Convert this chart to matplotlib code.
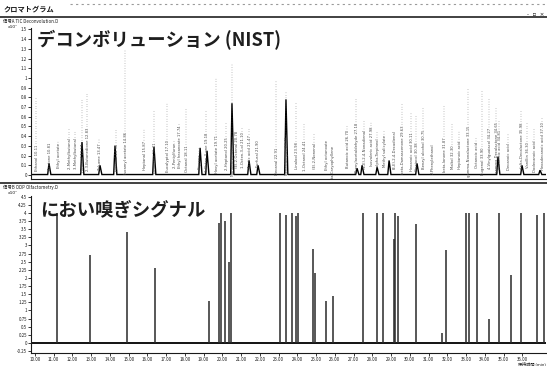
import matplotlib
matplotlib.use("Agg")
import matplotlib.pyplot as plt
from matplotlib.lines import Line2D

plt.rcParams['font.family'] = ['Noto Sans CJK JP', 'DejaVu Sans']

# ---- retention-time axis (min) ----
rt_ticks = [10, 11, 12, 13, 14, 15, 16, 17, 18, 19, 20, 21, 22, 23, 24, 25,
            26, 27, 28, 29, 30, 31, 32, 33, 34, 35, 36]
rt_labels = [f"{t:.2f}" for t in rt_ticks]

# ---- TIC after deconvolution (x10^7) ----
peak_rt = [10.75, 12.51, 13.47, 14.27, 16.35, 18.81, 19.18, 20.51, 21.42,
           21.90, 23.39, 27.18, 27.45, 28.25, 28.89, 30.38, 34.70, 35.98, 36.94]
peak_height = [0.12, 0.34, 0.10, 0.30, 0.29, 0.28, 0.25, 0.74, 0.15,
               0.10, 0.78, 0.07, 0.10, 0.08, 0.15, 0.12, 0.19, 0.10, 0.05]
tic_ticks = [0.0, 0.1, 0.2, 0.3, 0.4, 0.5, 0.6, 0.7, 0.8, 0.9, 1.0, 1.1,
             1.2, 1.3, 1.4, 1.5]
tic_labels = ["0", "0.1", "0.2", "0.3", "0.4", "0.5", "0.6", "0.7", "0.8",
              "0.9", "1", "1.1", "1.2", "1.3", "1.4", "1.5"]

# ---- NIST library hits annotated above the deconvoluted peaks ----
hit_rt = [10.11, 10.81, 11.29, 11.87, 12.19, 12.57, 12.83, 13.47, 14.38,
          14.86, 15.87, 16.41, 17.10, 17.47, 17.74, 18.11, 18.81, 19.18,
          19.71, 20.25, 20.57, 20.78, 21.10, 21.47, 21.90, 22.91, 23.45,
          23.98, 24.41, 24.94, 25.58, 25.90, 26.70, 27.18, 27.61, 27.98,
          28.30, 28.67, 29.21, 29.63, 30.11, 30.38, 30.75, 31.23, 31.87,
          32.30, 32.67, 33.15, 33.58, 33.90, 34.27, 34.65, 34.81, 35.29,
          35.98, 36.30, 36.67, 37.10]
hit_top = [0.80, 0.33, 0.36, 0.48, 0.46, 0.79, 0.85, 0.38, 0.48, 1.29,
           0.48, 0.67, 0.75, 0.36, 0.54, 0.69, 0.29, 0.67, 1.00, 0.54,
           1.15, 0.46, 0.49, 0.49, 0.36, 0.98, 0.86, 0.75, 0.54, 0.43,
           0.36, 0.31, 0.52, 0.80, 0.57, 0.55, 0.46, 0.46, 0.46, 0.74,
           0.65, 0.62, 0.70, 0.33, 0.72, 0.54, 0.46, 0.90, 0.39, 0.88,
           0.79, 0.70, 0.57, 0.43, 0.67, 0.54, 0.49, 0.60]
hit_names = ["Ethanol", "Acetone", "Ethyl acetate", "2-Methylbutanal",
             "3-Methylbutanal", "Pentanal", "2,3-Butanedione", "Toluene",
             "Hexanal", "Isoamyl acetate", "Heptanal", "Limonene",
             "Eucalyptol", "2-Pentylfuran", "Ethyl hexanoate", "Octanal",
             "Styrene", "1-Octen-3-one", "Hexyl acetate", "2-Heptanol",
             "Nonanal", "(E)-2-Octenal", "1-Octen-3-ol", "Acetic acid",
             "Furfural", "Decanal", "Benzaldehyde", "Linalool", "1-Octanol",
             "(E)-2-Nonenal", "Ethyl octanoate", "beta-Caryophyllene",
             "Butanoic acid", "Phenylacetaldehyde", "(E,E)-2,4-Nonadienal",
             "Isovaleric acid", "alpha-Terpineol", "Methyl salicylate",
             "(E,E)-2,4-Decadienal", "beta-Damascenone", "Hexanoic acid",
             "Guaiacol", "Benzyl alcohol", "2-Phenylethanol", "beta-Ionone",
             "Maltol", "Heptanoic acid", "gamma-Nonalactone", "Octanoic acid",
             "Eugenol", "4-Vinylguaiacol", "gamma-Decalactone",
             "Nonanoic acid", "Decanoic acid", "delta-Decalactone",
             "Vanillin", "Dodecanoic acid", "Hexadecanoic acid"]

# ---- sniffing port (olfactometry) signal ----
odor_rt = [11.20, 12.94, 14.93, 16.41, 19.30, 19.84, 19.91, 20.14, 20.37,
           20.44, 23.07, 23.39, 23.70, 23.93, 24.02, 24.85, 24.94, 25.53,
           25.92, 27.52, 28.26, 28.58, 29.15, 29.21, 29.38, 30.31, 31.71,
           31.93, 32.98, 33.15, 33.56, 34.22, 34.74, 35.39, 35.91, 36.76,
           37.15]
odor_intensity = [4.0, 2.7, 3.4, 2.3, 1.3, 3.7, 4.0, 3.75, 2.5, 4.0, 4.0,
                  3.95, 4.0, 3.9, 4.0, 2.9, 2.15, 1.3, 1.45, 4.0, 4.0, 4.0,
                  3.2, 4.0, 3.9, 3.65, 0.3, 2.85, 4.0, 4.0, 4.0, 0.75, 4.0,
                  2.1, 4.0, 3.95, 4.0]
odor_ticks = [-0.25, 0.0, 0.25, 0.5, 0.75, 1.0, 1.25, 1.5, 1.75, 2.0, 2.25,
              2.5, 2.75, 3.0, 3.25, 3.5, 3.75, 4.0, 4.25, 4.5]
odor_labels = ["-0.25", "0", "0.25", "0.5", "0.75", "1", "1.25", "1.5",
               "1.75", "2", "2.25", "2.5", "2.75", "3", "3.25", "3.5",
               "3.75", "4", "4.25", "4.5"]

W, H = 547, 366
fig = plt.figure(figsize=(W / 100, H / 100), dpi=100)
fig.patch.set_facecolor("white")


def fx(px):
    return px / W


def fy(py):
    return 1 - py / H


XLIM = (9.79, 37.26)
INK = "#1a1a1a"

# ---- window chrome ----
fig.add_artist(Line2D([fx(70), fx(547)], [fy(4), fy(4)], color="#9a9a9a",
                      lw=0.8, ls=(0, (2, 3))))
fig.text(fx(4), fy(9), "クロマトグラム", fontsize=5.2, color=INK,
         va="center", ha="left", weight="bold")
fig.text(fx(544), fy(14), "-  ▫  ×", fontsize=4, color=INK, va="center",
         ha="right", family=["DejaVu Sans"])
fig.add_artist(Line2D([0, 1], [fy(17), fy(17)], color="#333333", lw=1.3))
fig.text(fx(3), fy(21.5), "信号A TIC Deconvolution.D", fontsize=3.2,
         color=INK, va="center", ha="left")
fig.add_artist(Line2D([0, 1], [fy(183), fy(183)], color="#333333", lw=1.3))
fig.text(fx(3), fy(187.5), "信号B ODP Olfactometry.D", fontsize=3.2,
         color=INK, va="center", ha="left")


def style_axes(ax):
    for side in ("top", "right"):
        ax.spines[side].set_visible(False)
    for side in ("left", "bottom"):
        ax.spines[side].set_color(INK)
        ax.spines[side].set_linewidth(0.8)
    ax.tick_params(axis="both", length=2, width=0.6, labelsize=3.2, pad=1,
                   colors=INK)
    ax.set_xlim(*XLIM)
    ax.set_facecolor("none")


# ---- upper panel: deconvoluted TIC ----
ax1 = fig.add_axes([fx(31), fy(179), fx(546) - fx(31), fy(28) - fy(179)])
style_axes(ax1)
ax1.set_ylim(-0.041, 1.515)
ax1.set_yticks(tic_ticks)
ax1.set_yticklabels(tic_labels)
ax1.set_xticks(rt_ticks)
ax1.tick_params(axis="x", labelbottom=False, length=0)

# trace: baseline with narrow peaks at each apex
tx, ty = [XLIM[0]], [0.005]
for t, h in sorted(zip(peak_rt, peak_height)):
    tx += [t - 0.07, t, t + 0.10]
    ty += [0.005, h, 0.005]
tx.append(XLIM[1])
ty.append(0.005)
ax1.plot(tx, ty, color="black", lw=1.0, solid_joinstyle="miter")

# library-hit annotations: name and retention time rising from the baseline,
# continued by a dotted leader up to the annotation's top
PX_PER_UNIT = 97.0
CHAR_PX = 2.05
DOT_PX = 2.3
for t, top, name in zip(hit_rt, hit_top, hit_names):
    room_px = top * PX_PER_UNIT - 5
    label = f"{name} {t:.2f}"
    if len(label) * CHAR_PX > room_px:
        label = name
    n_dots = int((room_px - len(label) * CHAR_PX) / DOT_PX)
    if n_dots > 0:
        label = label + " " + " ".join([":"] * n_dots)
    ax1.text(t, top, label, rotation=90, ha="center", va="top",
             fontsize=2.7, color="#4a4a4a", clip_on=True,
             family=["DejaVu Sans"])

fig.text(fx(8), fy(26.5), "x10⁷", fontsize=3.2, color=INK, ha="left",
         va="center", family=["DejaVu Sans"])
fig.text(fx(37), fy(40), "デコンボリューション (NIST)", fontsize=13.2,
         color="#1e1e1e", ha="left", va="center", weight="bold")

# ---- lower panel: sniffing signal ----
ax2 = fig.add_axes([fx(31), fy(353), fx(546) - fx(31), fy(196) - fy(353)])
style_axes(ax2)
ax2.set_ylim(-0.31, 4.52)
ax2.set_yticks(odor_ticks)
ax2.set_yticklabels(odor_labels)
ax2.set_xticks(rt_ticks)
ax2.set_xticklabels(rt_labels)
ax2.axhline(0, color="black", lw=1.3)
ax2.vlines(odor_rt, 0, odor_intensity, color="#2a2a2a", lw=1.1)

fig.text(fx(8), fy(193), "x10⁷", fontsize=3.2, color=INK, ha="left",
         va="center", family=["DejaVu Sans"])
fig.text(fx(40), fy(211), "におい嗅ぎシグナル", fontsize=13.2,
         color="#1e1e1e", ha="left", va="center", weight="bold")
fig.text(fx(546), fy(363.5), "保持時間 (min)", fontsize=3.0, color=INK,
         ha="right", va="center")

fig.savefig("out.png", dpi=100, facecolor="white")
